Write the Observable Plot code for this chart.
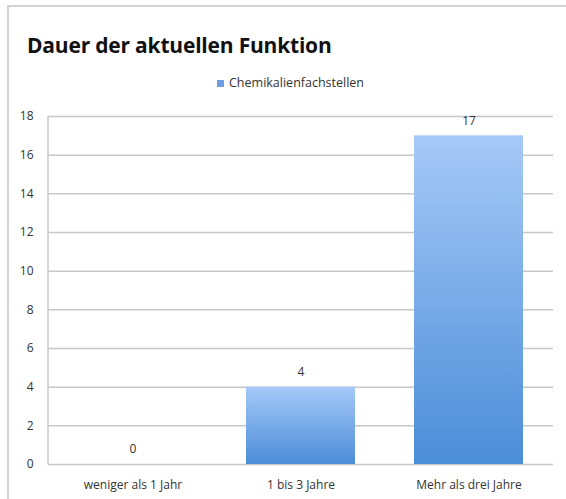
<!DOCTYPE html>
<html>
<head>
<meta charset="utf-8">
<script src="https://cdn.jsdelivr.net/npm/d3@7"></script>
<script src="https://cdn.jsdelivr.net/npm/@observablehq/plot@0.6"></script>
<style>
  html, body { margin: 0; padding: 0; background: #fff; }
  body { width: 566px; height: 499px; position: relative; overflow: hidden; font-family: "Open Sans", Lato, sans-serif; }
  #frame { position: absolute; left: 7px; top: 5px; right: 0; bottom: -5px; border-left: 2px solid #d2d2d2; border-top: 2px solid #d2d2d2; }
  #title { position: absolute; left: 27px; top: 31px; font-size: 21px; font-weight: bold; color: #111; white-space: nowrap; letter-spacing: -0.2px; }
  #legend { position: absolute; left: 217px; top: 74px; font-size: 12.5px; color: #333; white-space: nowrap; }
  #legend .sw { display: inline-block; width: 7px; height: 7px; background: #6f9fe0; margin-right: 5px; vertical-align: 0px; }
  #chart { position: absolute; left: 0; top: 100px; }
</style>
</head>
<body>
<div id="frame"></div>
<div id="title">Dauer der aktuellen Funktion</div>
<div id="legend"><span class="sw"></span><span id="seriesName"></span></div>
<div id="chart"></div>
<script>
const categories = ["weniger als 1 Jahr", "1 bis 3 Jahre", "Mehr als drei Jahre"];
const values = [0, 4, 17];
const seriesName = "Chemikalienfachstellen";
const yTicks = [0, 2, 4, 6, 8, 10, 12, 14, 16, 18];

document.getElementById("seriesName").textContent = seriesName;

const data = categories.map((c, i) => ({category: c, value: values[i]}));

const leftAxisLine = (index, scales, values, dims) => {
  const g = d3.create("svg:g");
  g.append("line")
    .attr("x1", dims.marginLeft).attr("x2", dims.marginLeft)
    .attr("y1", dims.marginTop).attr("y2", dims.height - dims.marginBottom)
    .attr("stroke", "#c8c8c8").attr("stroke-width", 1.5);
  return g.node();
};

const plot = Plot.plot({
  width: 566,
  height: 399,
  marginTop: 16,
  marginBottom: 35,
  marginLeft: 48,
  marginRight: 13,
  style: { fontFamily: "'Open Sans', Lato, sans-serif", fontSize: "12px", color: "#333", background: "transparent" },
  x: { domain: categories, paddingInner: 0.35, paddingOuter: 0.175, label: null, tickSize: 0, tickPadding: 16 },
  y: { domain: [0, 18], ticks: yTicks, label: null, tickSize: 0, tickPadding: 15 },
  marks: [
    Plot.ruleY(yTicks, { stroke: "#c8c8c8", strokeWidth: 1.5 }),
    leftAxisLine,
    Plot.barY(data, { x: "category", y: "value", fill: "url(#barGrad)" }),
    Plot.text(data, { x: "category", y: "value", text: d => String(d.value), dy: -15, fill: "#333", fontSize: 12 })
  ]
});

plot.insertAdjacentHTML("afterbegin",
  '<defs><linearGradient id="barGrad" x1="0" y1="0" x2="0" y2="1">' +
  '<stop offset="0" stop-color="#a6c9f7"/>' +
  '<stop offset="1" stop-color="#4b8dd8"/>' +
  '</linearGradient></defs>');

document.getElementById("chart").appendChild(plot);
</script>
</body>
</html>
